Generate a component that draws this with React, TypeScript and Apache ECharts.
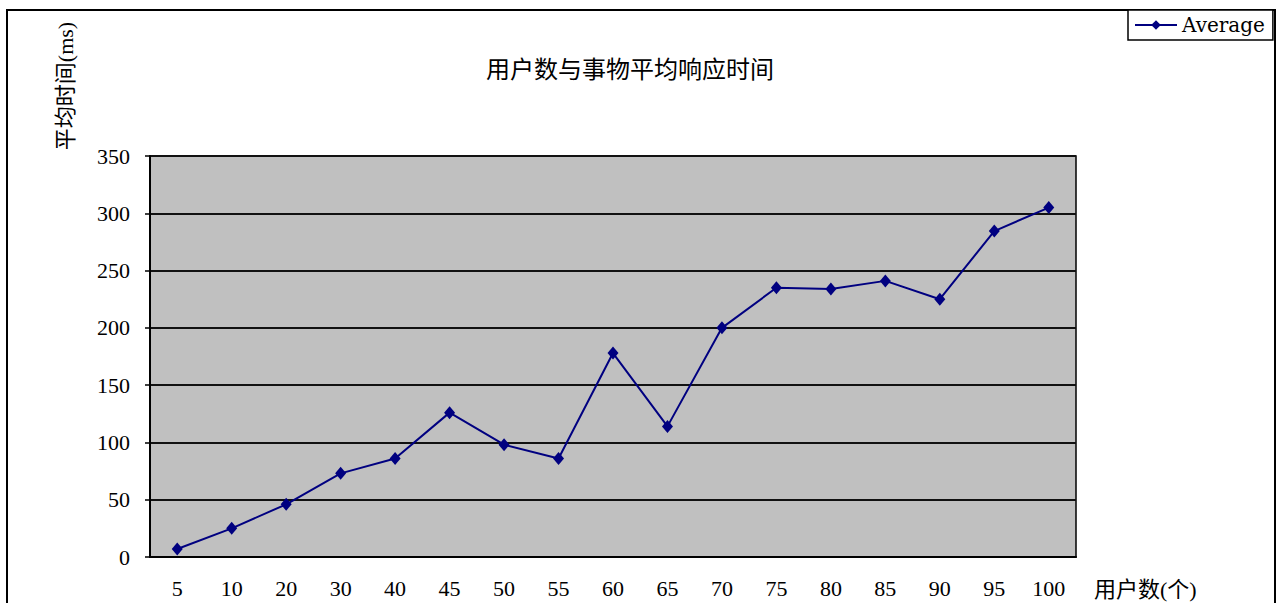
import React, { useEffect, useRef } from "react";
import * as echarts from "echarts";

const categories = ["5", "10", "20", "30", "40", "45", "50", "55", "60", "65", "70", "75", "80", "85", "90", "95", "100"];
const averageValues = [7, 25, 46, 73, 86, 126, 98, 86, 178, 114, 200, 235, 234, 241, 225, 284.5, 305];
const titleText = "用户数与事物平均响应时间";
const xAxisName = "用户数(个)";
const yAxisName = "平均时间(ms)";
const seriesName = "Average";

export default function App() {
  const ref = useRef<HTMLDivElement>(null);
  useEffect(() => {
    document.body.style.margin = "0";
    const chart = echarts.init(ref.current!, undefined, { renderer: "svg" });
    const serif = "Liberation Serif, Noto Sans CJK SC, serif";
    chart.setOption({
      animation: false,
      backgroundColor: "#ffffff",
      graphic: [
        {
          type: "rect",
          shape: { x: 7, y: 10, width: 1268, height: 600 },
          style: { fill: "none", stroke: "#000", lineWidth: 2 },
          z: -1,
        },
        {
          type: "text",
          x: 630,
          y: 67,
          style: {
            text: titleText,
            fontFamily: "Noto Sans CJK SC",
            fontSize: 24,
            fill: "#000",
            align: "center",
            verticalAlign: "middle",
          },
        },
        {
          type: "text",
          x: 65,
          y: 86,
          rotation: Math.PI / 2,
          style: {
            text: yAxisName,
            fontFamily: serif,
            fontSize: 22,
            fill: "#000",
            align: "center",
            verticalAlign: "middle",
          },
        },
        {
          type: "text",
          x: 1094,
          y: 589,
          style: {
            text: xAxisName,
            fontFamily: serif,
            fontSize: 22,
            fill: "#000",
            align: "left",
            verticalAlign: "middle",
          },
        },
      ],
      legend: {
        left: 1128,
        top: 10,
        padding: [5, 8, 5, 6],
        itemWidth: 42,
        itemHeight: 12,
        itemGap: 6,
        borderColor: "#000",
        borderWidth: 1.5,
        borderRadius: 0,
        backgroundColor: "#fff",
        textStyle: { fontFamily: "DejaVu Serif", fontSize: 20, color: "#000" },
        data: [seriesName],
      },
      grid: {
        left: 150,
        top: 156,
        right: 201,
        bottom: 46,
        show: true,
        backgroundColor: "#c0c0c0",
        borderColor: "#000",
        borderWidth: 1.5,
      },
      xAxis: {
        type: "category",
        data: categories,
        boundaryGap: true,
        axisLine: { lineStyle: { color: "#000", width: 2 } },
        axisTick: { inside: true, length: 6, lineStyle: { color: "#000", width: 1.5 } },
        axisLabel: { color: "#000", fontFamily: serif, fontSize: 22, margin: 20 },
        splitLine: { show: false },
      },
      yAxis: {
        type: "value",
        min: 0,
        max: 350,
        interval: 50,
        axisLine: { show: true, lineStyle: { color: "#000", width: 2 } },
        axisTick: { show: true, length: 5, lineStyle: { color: "#000", width: 1.5 } },
        axisLabel: { color: "#000", fontFamily: serif, fontSize: 22, margin: 20 },
        splitLine: { show: true, lineStyle: { color: "#111", width: 2 } },
      },
      series: [
        {
          name: seriesName,
          type: "line",
          data: averageValues,
          symbol: "diamond",
          symbolSize: [11, 13],
          lineStyle: { color: "#000080", width: 2 },
          itemStyle: { color: "#000080" },
        },
      ],
    });
    return () => chart.dispose();
  }, []);
  return <div ref={ref} style={{ width: 1277, height: 603 }} />;
}
